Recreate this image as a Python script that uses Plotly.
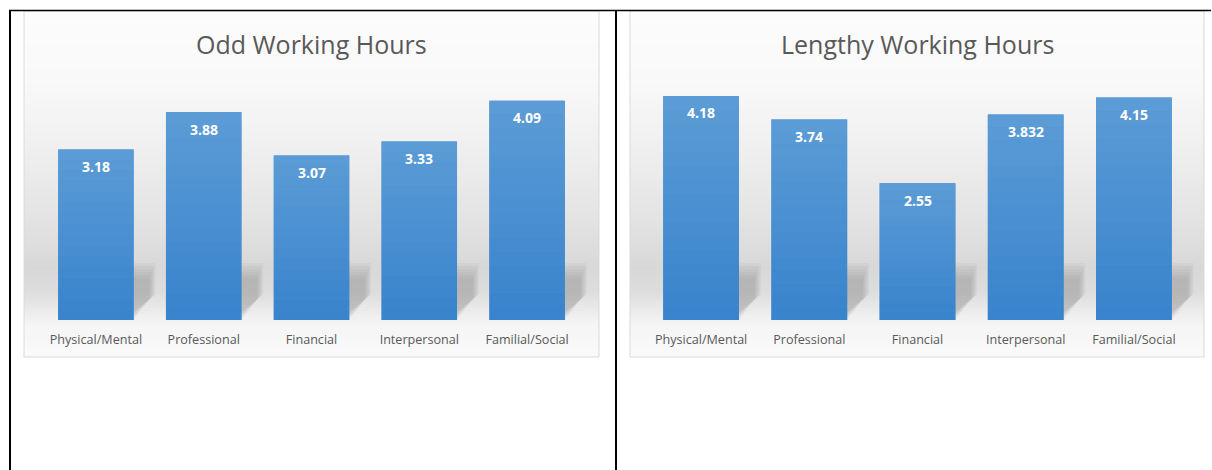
import plotly.graph_objects as go

W, H = 1212, 470

categories = ["Physical/Mental", "Professional", "Financial", "Interpersonal", "Familial/Social"]
odd_values = [3.18, 3.88, 3.07, 3.33, 4.09]
odd_labels = ["3.18", "3.88", "3.07", "3.33", "4.09"]
lengthy_values = [4.18, 3.74, 2.55, 3.832, 4.15]
lengthy_labels = ["4.18", "3.74", "2.55", "3.832", "4.15"]
titles = ["Odd Working Hours", "Lengthy Working Hours"]

FONT = "Open Sans"
Y_MAX = 4.5

def PX(x):
    return x / W

def PY(y):
    return 1 - y / H

# layout geometry (pixels)
frames = [(24, 11, 599, 357), (630, 11, 1204, 357)]
plot_x = [(42, 581), (647, 1188)]
plot_bottom, plot_top = 320, 320 - 53.6 * Y_MAX

fig = go.Figure()
shapes = []
annotations = []

def gray_at(y):
    pts = [(11, 252), (80, 249), (150, 239), (220, 227), (268, 216), (292, 221), (312, 236), (324, 245), (357, 250)]
    for (y0, g0), (y1, g1) in zip(pts, pts[1:]):
        if y0 <= y <= y1:
            t = (y - y0) / (y1 - y0)
            return g0 + (g1 - g0) * t
    return 250

for k, (series, labels) in enumerate([(odd_values, odd_labels), (lengthy_values, lengthy_labels)]):
    fx0, fy0, fx1, fy1 = frames[k]
    xa = "x" if k == 0 else "x2"
    ya = "y" if k == 0 else "y2"
    # background gradient strips
    y = fy0
    step = 3
    while y < fy1:
        y2 = min(y + step, fy1)
        g = int(round(gray_at((y + y2) / 2)))
        shapes.append(dict(type="rect", xref="paper", yref="paper",
                           x0=PX(fx0), x1=PX(fx1), y0=PY(y2), y1=PY(y),
                           fillcolor=f"rgb({g},{g},{g})", line=dict(width=0), layer="below"))
        y = y2
    # soft shadows behind bars
    px0, px1 = plot_x[k]
    unit = (px1 - px0) / len(categories)
    for i in range(len(categories)):
        xl = px0 + (i + 0.5) * unit - 0.35 * unit
        xr = px0 + (i + 0.5) * unit + 0.35 * unit
        for grow in [8, 6, 4, 2, 0, -2]:
            pts = [(xl, 320), (xr - 2 - grow, 320), (xr + 17 + grow * 0.6, 298 - grow * 0.5),
                   (xr + 17 + grow * 0.6, 275 - grow * 1.5), (xl + 14, 275 - grow * 1.5)]
            path = "M " + " L ".join(f"{PX(a):.5f},{PY(b):.5f}" for a, b in pts) + " Z"
            shapes.append(dict(type="path", xref="paper", yref="paper", path=path,
                               fillcolor="rgba(110,110,110,0.06)", line=dict(width=0), layer="below"))
    # frame border
    shapes.append(dict(type="rect", xref="paper", yref="paper",
                       x0=PX(fx0), x1=PX(fx1), y0=PY(fy1), y1=PY(fy0),
                       line=dict(color="#d9d9d9", width=1), fillcolor="rgba(0,0,0,0)", layer="below"))

    fig.add_trace(go.Bar(x=list(range(len(categories))), y=series, xaxis=xa, yaxis=ya,
                         marker=dict(color="#4a8fd2", line=dict(width=0)),
                         hoverinfo="skip", showlegend=False))
    # bar gradient overlay derived from values
    K = 16
    top_c, bot_c = (92, 156, 214), (56, 131, 204)
    for i, v in enumerate(series):
        for s in range(K):
            t = (s + 0.5) / K
            c = tuple(int(round(bot_c[j] + (top_c[j] - bot_c[j]) * t)) for j in range(3))
            shapes.append(dict(type="rect", xref=xa, yref=ya,
                               x0=i - 0.35, x1=i + 0.35, y0=v * s / K, y1=v * (s + 1) / K,
                               fillcolor=f"rgb{c}", line=dict(width=0), layer="above"))
        annotations.append(dict(x=i, y=v, xref=xa, yref=ya, text=f"<b>{labels[i]}</b>",
                                showarrow=False, yshift=-17, yanchor="middle",
                                font=dict(family=FONT, size=14, color="white")))
    # title
    annotations.append(dict(x=PX((fx0 + fx1) / 2), y=PY(44), xref="paper", yref="paper",
                            text=titles[k], showarrow=False, xanchor="center", yanchor="middle",
                            font=dict(family=FONT, size=25, color="#595959")))

# table lines
shapes.append(dict(type="line", xref="paper", yref="paper", x0=PX(9), x1=PX(1211), y0=PY(10.5), y1=PY(10.5),
                   line=dict(color="black", width=1.5), layer="above"))
for xv in [10, 616]:
    shapes.append(dict(type="line", xref="paper", yref="paper", x0=PX(xv), x1=PX(xv), y0=PY(10), y1=0,
                       line=dict(color="black", width=2), layer="above"))

axis_common = dict(tickmode="array", tickvals=list(range(len(categories))), ticktext=categories,
                   range=[-0.5, len(categories) - 0.5], showgrid=False, zeroline=False, showline=False,
                   ticks="", tickfont=dict(family=FONT, size=12.6, color="#595959"), ticklabelstandoff=10,
                   fixedrange=True)
yaxis_common = dict(range=[0, Y_MAX], domain=[PY(plot_bottom), PY(plot_top)], showgrid=False,
                    zeroline=False, showline=False, showticklabels=False, ticks="", fixedrange=True)

fig.update_layout(
    width=W, height=H, margin=dict(l=0, r=0, t=0, b=0),
    paper_bgcolor="white", plot_bgcolor="rgba(0,0,0,0)",
    bargap=0.3, showlegend=False,
    xaxis=dict(domain=[PX(plot_x[0][0]), PX(plot_x[0][1])], anchor="y", **axis_common),
    yaxis=dict(anchor="x", **yaxis_common),
    xaxis2=dict(domain=[PX(plot_x[1][0]), PX(plot_x[1][1])], anchor="y2", **axis_common),
    yaxis2=dict(anchor="x2", **yaxis_common),
    shapes=shapes, annotations=annotations,
)

fig.write_html("out.html")
